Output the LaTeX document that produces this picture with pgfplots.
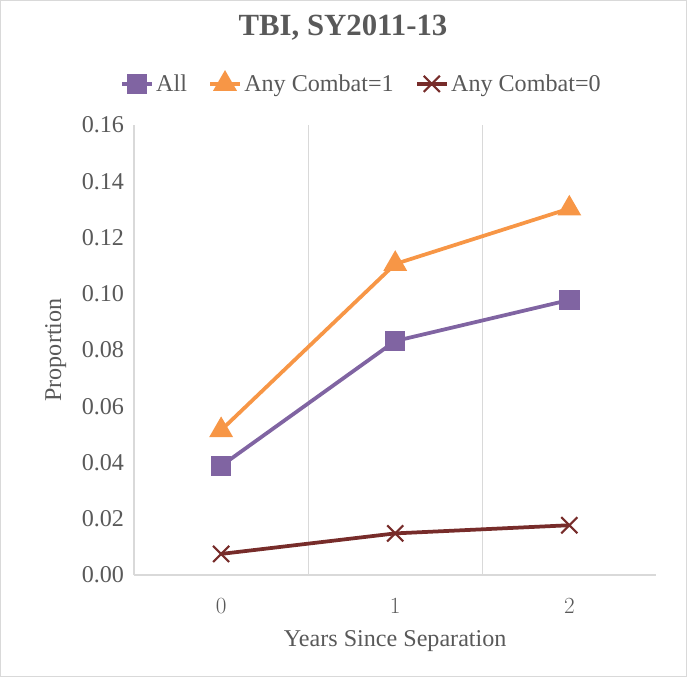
\documentclass[border=0pt]{standalone}
\usepackage{pgfplots}
\pgfplotsset{compat=1.18}
\usepackage{fontspec}
\setmainfont{Liberation Serif}
\definecolor{cAll}{HTML}{8064A2}
\definecolor{cOne}{HTML}{F79646}
\definecolor{cZero}{HTML}{772C2A}
\definecolor{gridc}{HTML}{D9D9D9}
\definecolor{txt}{HTML}{595959}

\begin{document}
\begin{tikzpicture}
  % chart frame
  \draw[gridc, line width=0.75pt] (-99.75pt,-75.75pt) rectangle (412.5pt,429pt);
  \node[font=\fontsize{23}{26}\selectfont\bfseries, text=txt] at (156pt,409pt) {TBI, SY2011-13};
  \begin{axis}[
      at={(0,0)}, anchor=south west,
      scale only axis,
      width=390pt, height=336pt,
      xmin=-0.5, xmax=2.5,
      ymin=0, ymax=0.16,
      xtick={0,1,2},
      minor xtick={0.5,1.5},
      xminorgrids=true,
      minor grid style={gridc, line width=1pt},
      ytick={0,0.02,...,0.16},
      yticklabels={0.00,0.02,0.04,0.06,0.08,0.10,0.12,0.14,0.16},
      axis x line*=bottom,
      axis y line*=left,
      axis line style={gridc, line width=1pt, -},
      major tick length=0pt, minor tick length=0pt,
      tick label style={font=\fontsize{18}{20}\selectfont, text=txt},
      yticklabel style={xshift=-4pt},
      xticklabel style={yshift=-14pt},
      xlabel={Years Since Separation},
      ylabel={Proportion},
      label style={font=\fontsize{18}{20}\selectfont, text=txt},
      xlabel style={at={(axis description cs:0.5,-0.147)}, anchor=center},
      ylabel style={at={(axis description cs:-0.15,0.5)}, anchor=center, rotate=0},
      clip=false,
      legend columns=3,
      legend style={draw=none, fill=none, at={(0.436,1.0915)}, anchor=center,
        font=\fontsize{18}{20}\selectfont, text=txt,
        /tikz/every even column/.append style={column sep=14pt}},
      legend image code/.code={
        \draw[#1] (0pt,0pt) -- (22pt,0pt);
        \draw[#1, mark repeat=2, mark phase=2] plot coordinates {(0pt,0pt) (11pt,0pt) (22pt,0pt)};
      },
    ]
    \addplot[cAll, line width=2.8pt, mark=square*, mark size=6.2pt, mark options={solid}]
      coordinates {(0,0.0388) (1,0.0832) (2,0.0978)};
    \addlegendentry{All}
    \addplot[cOne, line width=2.8pt, mark=triangle*, mark size=7.5pt]
      coordinates {(0,0.0515) (1,0.1106) (2,0.1303)};
    \addlegendentry{Any Combat=1}
    \addplot[cZero, line width=2.8pt, mark=x, mark size=8.5pt, mark options={line width=1.6pt}]
      coordinates {(0,0.0075) (1,0.0148) (2,0.0177)};
    \addlegendentry{Any Combat=0}
  \end{axis}
\end{tikzpicture}
\end{document}
